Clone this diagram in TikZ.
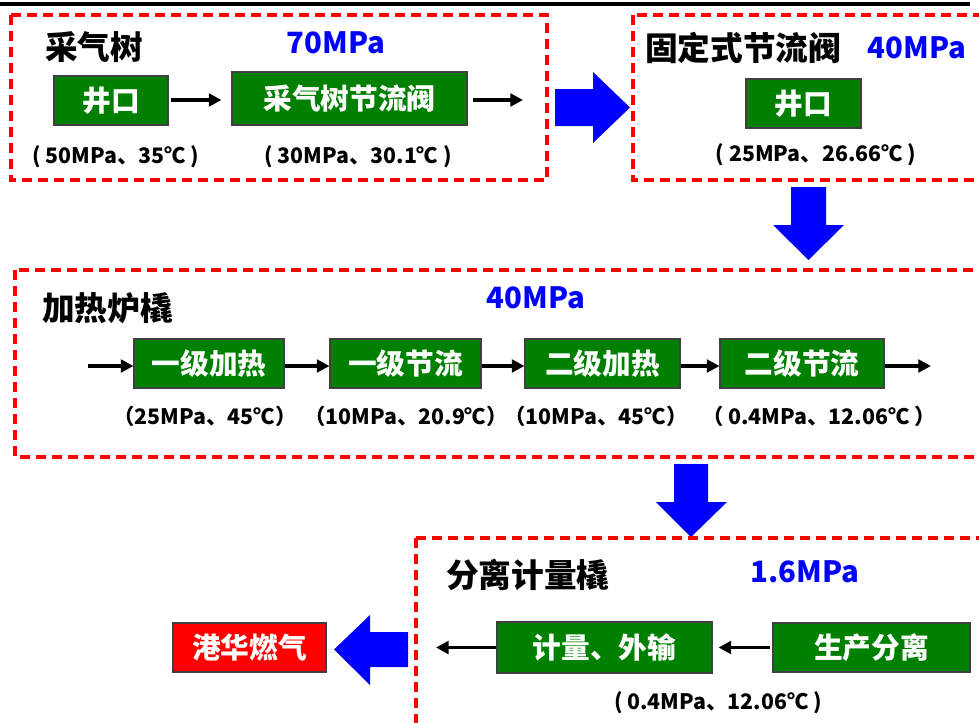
\documentclass[tikz,border=0pt]{standalone}
\usepackage{fontspec}
\setmainfont{Noto Sans CJK SC}
\usetikzlibrary{arrows.meta}
\definecolor{boxgreen}{RGB}{0,128,0}
\definecolor{framered}{RGB}{255,0,0}
\definecolor{arrowblue}{RGB}{0,0,255}
\newcommand\dgTitle{\bfseries\fontsize{24.5}{28}\selectfont}
\newcommand\dgBox{\bfseries\fontsize{21.5}{26}\selectfont}
\newcommand\dgPress{\bfseries\fontsize{22}{26}\selectfont}
\newcommand\dgCond{\bfseries\fontsize{16}{19}\selectfont}
\begin{document}
\begin{tikzpicture}[x=0.75pt,y=-0.75pt,
  frame/.style={draw=framered, line width=2.6pt, dash pattern=on 7.5pt off 4.5pt},
  sz/.style 2 args={minimum width=#1*0.75pt, minimum height=#2*0.75pt},
  gbox/.style={draw=black!75, line width=0.8pt, fill=boxgreen, text=white, font=\dgBox, inner sep=0pt},
  rbox/.style={gbox, fill=framered},
  flow/.style={line width=2.6pt, -{Triangle[length=9.5pt,width=9.5pt]}},
  title/.style={font=\dgTitle, anchor=west, inner sep=0pt},
  press/.style={font=\dgPress, text=arrowblue, inner sep=0pt},
  cond/.style={font=\dgCond, inner sep=0pt},
  barrow/.style={fill=arrowblue, draw=none}]
\useasboundingbox (0,0) rectangle (979,722);
\clip (0,0) rectangle (979,722);
\fill[white] (0,0) rectangle (979,722);
\draw[line width=3pt] (0,4) -- (970,4);

% ---- block 1 : 采气树
\draw[frame] (11,15) rectangle (547,180);
\node[title] (t1) at (45,47) {采气树};
\node[press] (p1) at (336,43) {70MPa};
\node[gbox, sz={114}{49}] (w1) at (111,100.5) {井口};
\node[gbox, sz={235}{53}] (v1) at (349.5,98.5) {采气树节流阀};
\coordinate (o1) at (523,100);
\draw[flow, shorten <=2pt, shorten >=7.5pt] (w1.east |- o1) -- (v1.west |- o1);
\draw[flow, shorten <=4pt] (v1.east |- o1) -- (o1);
\node[cond] (c1) at (116,157) {( 50MPa、35℃ )};
\node[cond] (c2) at (358,157) {( 30MPa、30.1℃ )};

% blue arrow right
\fill[barrow] (555,89) -- (593,89) -- (593,72) -- (630,107.5) -- (593,143) -- (593,126) -- (555,126) -- cycle;

% ---- block 2 : 固定式节流阀
\draw[frame] (633,15) rectangle (995,180);
\node[title] (t2) at (645,48) {固定式节流阀};
\node[press] (p2) at (917,48) {40MPa};
\node[gbox, sz={115}{49}] (w2) at (803.5,103.5) {井口};
\node[cond] (c3) at (816,155) {( 25MPa、26.66℃ )};

% blue arrow down 1
\fill[barrow] (791,187) -- (826,187) -- (826,225) -- (844,225) -- (808.5,260) -- (773,225) -- (791,225) -- cycle;

% ---- block 3 : 加热炉橇
\draw[frame] (15,270) rectangle (995,457);
\node[title] (t3) at (42,308) {加热炉橇};
\node[press] (p3) at (536,298) {40MPa};
\node[gbox, sz={150}{49}] (h1) at (209,363.5) {一级加热};
\node[gbox, sz={151}{49}] (h2) at (405.5,363.5) {一级节流};
\node[gbox, sz={155}{49}] (h3) at (602.5,363.5) {二级加热};
\node[gbox, sz={164}{49}] (h4) at (802,363.5) {二级节流};
\coordinate (i3) at (88,366);
\coordinate (o3) at (931,366);
\draw[flow] (i3) -- (h1.west |- i3);
\draw[flow] (h1.east |- i3) -- (h2.west |- i3);
\draw[flow] (h2.east |- i3) -- (h3.west |- i3);
\draw[flow] (h3.east |- i3) -- (h4.west |- i3);
\draw[flow] (h4.east |- i3) -- (o3);
\node[cond] (c4) at (205,416) {（25MPa、45℃）};
\node[cond] (c5) at (406,416) {（10MPa、20.9℃）};
\node[cond] (c6) at (596,416) {（10MPa、45℃）};
\node[cond] (c7) at (819,416) {（ 0.4MPa、12.06℃ ）};

% blue arrow down 2
\fill[barrow] (674,464) -- (708,464) -- (708,502) -- (727,502) -- (691,537) -- (656,502) -- (674,502) -- cycle;

% ---- block 4 : 分离计量橇
\draw[frame] (416,538) rectangle (995,740);
\node[title] (t4) at (446,575) {分离计量橇};
\node[press] (p4) at (805,572) {1.6MPa};
\node[gbox, sz={197}{49}] (s1) at (871.5,647.5) {生产分离};
\node[gbox, sz={215}{51}] (m1) at (604.5,647.5) {计量、外输};
\coordinate (o4) at (436,647.5);
\draw[flow, shorten <=2pt, shorten >=4.5pt] (s1.west) -- (m1.east);
\draw[flow] (m1.west) -- (o4);
\node[cond] (c8) at (718,703) {( 0.4MPa、12.06℃ )};

% blue arrow left
\fill[barrow] (408,632) -- (370,632) -- (370,615) -- (334,649.5) -- (370,685) -- (370,667) -- (408,667) -- cycle;

\node[rbox, sz={153}{49}] (r1) at (249.5,647.5) {港华燃气};
\end{tikzpicture}
\end{document}
